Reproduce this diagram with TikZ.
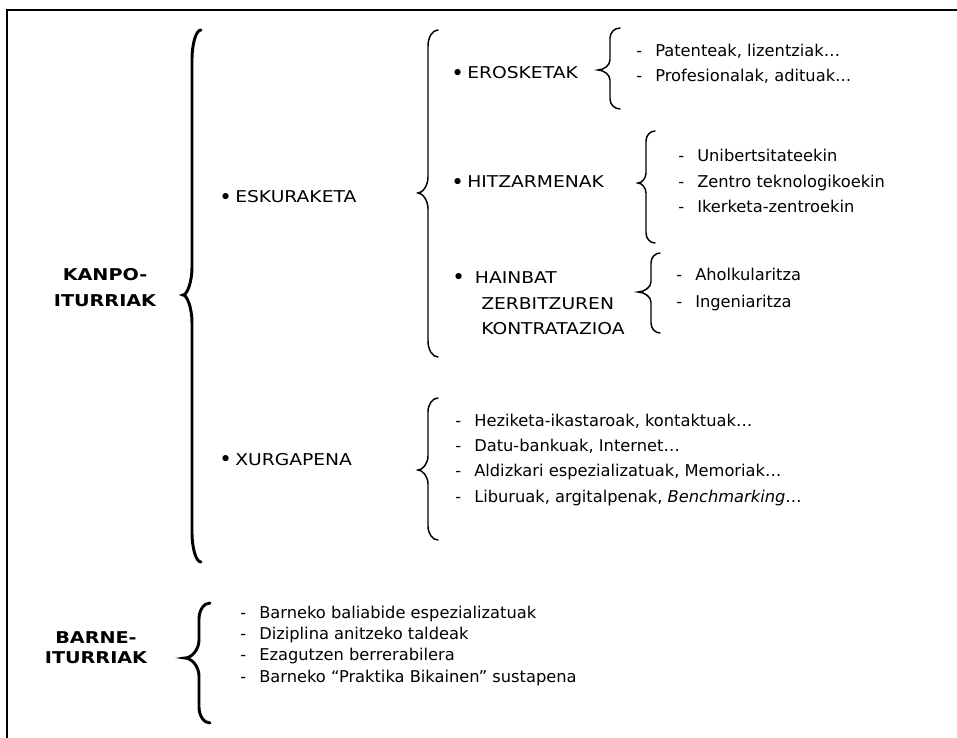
\documentclass[tikz,border=0pt]{standalone}
\usepackage{fontspec}
\usepackage{graphicx}
\setmainfont{DejaVu Sans}
\newcommand\dsh{\makebox[14.25pt][l]{-}}
\newcommand\bul[1]{\makebox[#1][l]{\raisebox{-1pt}{\fontsize{16}{16}\selectfont •}}}
\newcommand\wide[1]{\scalebox{1.15}[1]{#1}}
\newcommand\wideh[1]{\scalebox{1.18}[1]{#1}}
% style, spine x, top y, cusp y, bottom y, cusp x, end x, end curl h, cusp curl h
\newcommand\cbr[9]{\draw[#1] (#7,#3) .. controls ({#2+0.45*(#7-#2)},#3) and (#2,{#3+0.45*#8}) .. (#2,{#3+#8}) -- (#2,{#4-#9}) .. controls (#2,{#4-0.45*#9}) and ({#6+0.45*(#2-#6)},#4) .. (#6,#4) .. controls ({#6+0.45*(#2-#6)},#4) and (#2,{#4+0.45*#9}) .. (#2,{#4+#9}) -- (#2,{#5-#8}) .. controls (#2,{#5-0.45*#8}) and ({#2+0.45*(#7-#2)},#5) .. (#7,#5);}
\begin{document}
\begin{tikzpicture}[x=0.75pt,y=-0.75pt,
  txt/.style={inner sep=0pt, anchor=base west, font=\fontsize{12.2}{14}\selectfont},
  head/.style={inner sep=0pt, anchor=base, font=\fontsize{12.2}{14}\selectfont\bfseries},
  bigbrace/.style={line width=2.2pt, line cap=round},
  smallbrace/.style={line width=1.1pt, line cap=round},
  frameline/.style={line width=1.8pt}]
\useasboundingbox (0,0) rectangle (957,738);
\coordinate (fTR) at (957,10);
\coordinate (fTL) at (7,10);
\coordinate (fBL) at (7,738);
\draw[frameline] (fTR) -- (fTL) -- (fBL);

% headings
\node[head] (kanpo1) at (105,281) {\wideh{KANPO-}};
\node[head] (kanpo2) at (105,306) {\wideh{ITURRIAK}};
\node[head] (barne1) at (96,643) {\wideh{BARNE-}};
\node[head] (barne2) at (96,663) {\wideh{ITURRIAK}};

% big braces
\cbr{bigbrace}{192}{30}{295}{562}{183}{201}{30}{28}
\cbr{bigbrace}{199}{603}{658}{723}{185}{210}{16}{18}

% level 1
\node[txt] (esk) at (219,203) {\bul{12pt}\wide{ESKURAKETA}};
\node[txt] (xur) at (219,465) {\bul{12pt}\wide{XURGAPENA}};

\cbr{smallbrace}{428}{30}{193}{357}{418}{438}{16}{16}
\cbr{smallbrace}{428}{398}{470}{540}{418}{438}{14}{14}

% level 2
\node[txt] (ero) at (451,79) {\bul{12pt}\wide{EROSKETAK}};
\node[txt] (hitz) at (451,188) {\bul{12pt}\wide{HITZARMENAK}};
\node[txt] (hain1) at (452,283) {\bul{17pt}\wide{HAINBAT}};
\node[txt] (hain2) at (481,309) {\wide{ZERBITZUREN}};
\node[txt] (hain3) at (481,334) {\wide{KONTRATAZIOA}};

\cbr{smallbrace}{610}{28}{70}{109}{598}{620}{10}{10}
\cbr{smallbrace}{646}{131}{183}{243}{638}{655}{10}{10}
\cbr{smallbrace}{651}{253}{292}{333}{638}{660}{10}{10}

% items
\node[txt] (e1) at (636,57) {\dsh Patenteak, lizentziak…};
\node[txt] (e2) at (636,82) {\dsh Profesionalak, adituak…};

\node[txt] (h1) at (678,162) {\dsh Unibertsitateekin};
\node[txt] (h2) at (678,188) {\dsh Zentro teknologikoekin};
\node[txt] (h3) at (678,213) {\dsh Ikerketa-zentroekin};

\node[txt] (k1) at (676,280) {\dsh Aholkularitza};
\node[txt] (k2) at (676,307) {\dsh Ingeniaritza};

\node[txt] (x1) at (455,426) {\dsh Heziketa-ikastaroak, kontaktuak…};
\node[txt] (x2) at (455,451) {\dsh Datu-bankuak, Internet…};
\node[txt] (x3) at (455,476) {\dsh Aldizkari espezializatuak, Memoriak…};
\node[txt] (x4) at (455,502) {\dsh Liburuak, argitalpenak, \textit{Benchmarking}…};

\node[txt] (b1) at (240,618) {\dsh Barneko baliabide espezializatuak};
\node[txt] (b2) at (240,639) {\dsh Diziplina anitzeko taldeak};
\node[txt] (b3) at (240,660) {\dsh Ezagutzen berrerabilera};
\node[txt] (b4) at (240,682) {\dsh Barneko “Praktika Bikainen” sustapena};
\end{tikzpicture}
\end{document}
